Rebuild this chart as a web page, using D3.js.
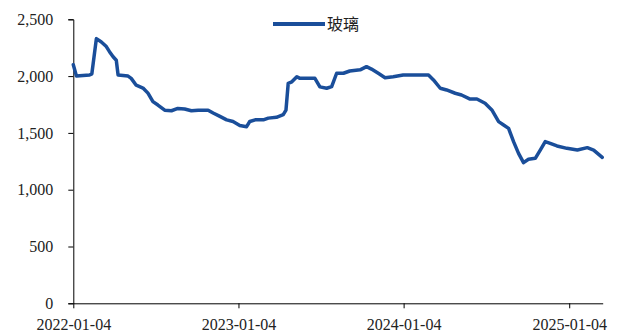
<!DOCTYPE html>
<html><head><meta charset="utf-8">
<script src="https://cdn.jsdelivr.net/npm/d3@7"></script>
<style>
html,body{margin:0;padding:0;background:#fff;}
svg{display:block;}
.ax text{font-family:"Liberation Serif","Times New Roman",serif !important;font-size:16px;fill:#222;}
.lg text{font-family:"Noto Sans CJK SC",sans-serif;font-size:16px;fill:#222;}
</style></head>
<body>
<svg id="chart" width="620" height="336"></svg>
<script>
const seriesName = "玻璃";
const dates = [
"2022-01-04","2022-01-11","2022-02-09","2022-02-14","2022-02-24","2022-03-07","2022-03-18","2022-03-25",
"2022-04-02","2022-04-09","2022-04-13","2022-05-05","2022-05-12","2022-05-23","2022-06-07","2022-06-18",
"2022-06-29","2022-07-10","2022-07-25","2022-08-09","2022-08-23","2022-09-07","2022-09-22","2022-10-07",
"2022-10-29","2022-11-09","2022-11-24","2022-12-09","2022-12-23","2023-01-07","2023-01-22","2023-01-29",
"2023-02-10","2023-02-28","2023-03-11","2023-03-29","2023-04-13","2023-04-19","2023-04-24","2023-05-02",
"2023-05-13","2023-05-20","2023-06-22","2023-07-03","2023-07-18","2023-07-29","2023-08-09","2023-08-24",
"2023-09-07","2023-09-30","2023-10-14","2023-10-25","2023-11-09","2023-11-24","2023-12-12","2024-01-03",
"2024-02-28","2024-03-10","2024-03-25","2024-04-08","2024-04-27","2024-05-11","2024-05-30","2024-06-14",
"2024-07-02","2024-07-17","2024-08-01","2024-08-12","2024-08-23","2024-09-03","2024-09-14","2024-09-25",
"2024-10-06","2024-10-21","2024-11-01","2024-11-12","2024-11-23","2024-12-08","2024-12-30","2025-01-22",
"2025-02-13","2025-02-27","2025-03-18"
];
const values = [
2100,2000,2010,2020,2330,2300,2260,2215,
2170,2140,2010,2000,1980,1920,1895,1850,
1775,1745,1700,1695,1715,1710,1695,1700,
1700,1675,1645,1615,1600,1565,1555,1600,
1615,1615,1630,1637,1660,1700,1937,1950,
1995,1980,1980,1905,1893,1907,2025,2025,
2045,2055,2083,2062,2025,1986,1995,2010,
2010,1966,1893,1878,1849,1834,1798,1798,
1761,1702,1599,1570,1540,1423,1320,1238,
1268,1276,1349,1423,1408,1385,1364,1349,
1370,1349,1285
];
const xTickLabels = ["2022-01-04","2023-01-04","2024-01-04","2025-01-04"];
const yTicks = [0,500,1000,1500,2000,2500];
const xDomain = ["2022-01-04","2025-03-19"];

const parse = d3.timeParse("%Y-%m-%d");
const data = dates.map((d,i)=>({date:parse(d), value:values[i]}));

const svg = d3.select("#chart");
const x = d3.scaleTime().domain(xDomain.map(parse)).range([73.3, 602.7]);
const y = d3.scaleLinear().domain([0,2500]).range([303.3, 19.3]);

// Y axis
const yAxis = svg.append("g").attr("class","ax").attr("transform","translate(73.3,0)")
  .call(d3.axisLeft(y).tickValues(yTicks).tickSize(5).tickPadding(15).tickFormat(d3.format(",")));
yAxis.attr("font-family",null).attr("font-size",null);
yAxis.select(".domain").attr("stroke","#000").attr("stroke-width",1);
yAxis.selectAll(".tick line").attr("stroke","#000");

// X axis
const xAxis = svg.append("g").attr("class","ax").attr("transform","translate(0,303.3)")
  .call(d3.axisBottom(x).tickValues(xTickLabels.map(parse)).tickSize(5).tickSizeOuter(0).tickPadding(10).tickFormat(d3.timeFormat("%Y-%m-%d")));
xAxis.attr("font-family",null).attr("font-size",null);
xAxis.select(".domain").attr("stroke","#000").attr("stroke-width",1);
xAxis.selectAll(".tick line").attr("stroke","#000");

// Line
const line = d3.line().x(d=>x(d.date)).y(d=>y(d.value));
svg.append("path").datum(data).attr("d",line)
  .attr("fill","none").attr("stroke","#1a4e9a").attr("stroke-width",3.5)
  .attr("stroke-linejoin","round").attr("stroke-linecap","round");

// Legend
const lg = svg.append("g").attr("class","lg");
lg.append("line").attr("x1",273).attr("x2",325).attr("y1",24).attr("y2",24)
  .attr("stroke","#1a4e9a").attr("stroke-width",4);
lg.append("text").attr("x",327).attr("y",24).attr("dy","0.35em").text(seriesName);
</script>
</body></html>
